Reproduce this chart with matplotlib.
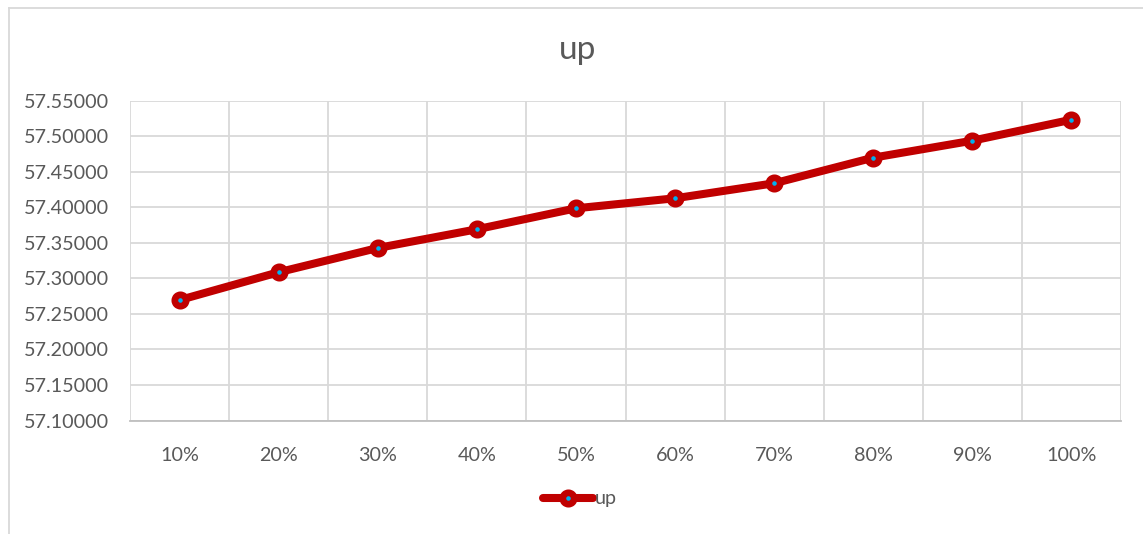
import matplotlib
matplotlib.use("Agg")
import matplotlib.pyplot as plt
from matplotlib.lines import Line2D
from matplotlib.ticker import FixedLocator, FuncFormatter

categories = ["10%", "20%", "30%", "40%", "50%", "60%", "70%", "80%", "90%", "100%"]
up_values = [57.2694, 57.3085, 57.3426, 57.3689, 57.3984, 57.4125, 57.4336, 57.4696, 57.4935, 57.5230]
y_ticks = [57.10, 57.15, 57.20, 57.25, 57.30, 57.35, 57.40, 57.45, 57.50, 57.55]
series_name = "up"
chart_title = "up"

plt.rcParams["font.family"] = ["Lato", "DejaVu Sans"]
text_color = "#595959"
grid_color = "#D9D9D9"
line_color = "#C00000"
dot_color = "#00B0F0"

W, H = 1143, 534
fig = plt.figure(figsize=(W / 100, H / 100), dpi=100)
ax = fig.add_axes([130 / W, 1 - 420.5 / H, (1121 - 130) / W, (420.5 - 100.5) / H])

x = list(range(len(categories)))
ax.plot(x, up_values, color=line_color, linewidth=5.8, marker="o",
        markersize=8.2, markeredgewidth=4.8, markeredgecolor=line_color,
        markerfacecolor=dot_color, label=series_name, zorder=3,
        solid_capstyle="round")

ax.set_xlim(-0.5, len(categories) - 0.5)
ax.set_ylim(y_ticks[0], y_ticks[-1])

ax.set_xticks(x)
ax.set_xticklabels(categories)
ax.xaxis.set_minor_locator(FixedLocator([i - 0.5 for i in range(len(categories) + 1)]))
ax.set_yticks(y_ticks)
ax.yaxis.set_major_formatter(FuncFormatter(lambda v, _: f"{v:.5f}"))

ax.grid(True, axis="y", which="major", color=grid_color, linewidth=1.3)
ax.grid(True, axis="x", which="minor", color=grid_color, linewidth=1.3)
ax.grid(False, axis="x", which="major")
ax.tick_params(axis="both", which="both", length=0, labelsize=14.2, colors=text_color)
ax.tick_params(axis="x", pad=19)
ax.tick_params(axis="y", pad=15)
for side in ("top", "right", "left"):
    ax.spines[side].set_visible(False)
ax.spines["bottom"].set_color("#BFBFBF")
ax.spines["bottom"].set_linewidth(1.3)
ax.set_axisbelow(True)

fig.text(578 / W, 1 - 50 / H, chart_title, ha="center", va="center",
         fontsize=24, color=text_color)

fig.legend(loc="center", bbox_to_anchor=(580 / W, 1 - 499 / H), frameon=False,
           fontsize=14.2, labelcolor=text_color, handlelength=2.5,
           handletextpad=0.1)

# chart frame (left and top edges)
fig.add_artist(Line2D([8.5 / W, 8.5 / W], [0, 1 - 7.5 / H], transform=fig.transFigure,
                      color="#D9D9D9", linewidth=1.3))
fig.add_artist(Line2D([8.5 / W, 1], [1 - 7.5 / H, 1 - 7.5 / H], transform=fig.transFigure,
                      color="#D9D9D9", linewidth=1.3))

fig.savefig("out.png", dpi=100, facecolor="white")
